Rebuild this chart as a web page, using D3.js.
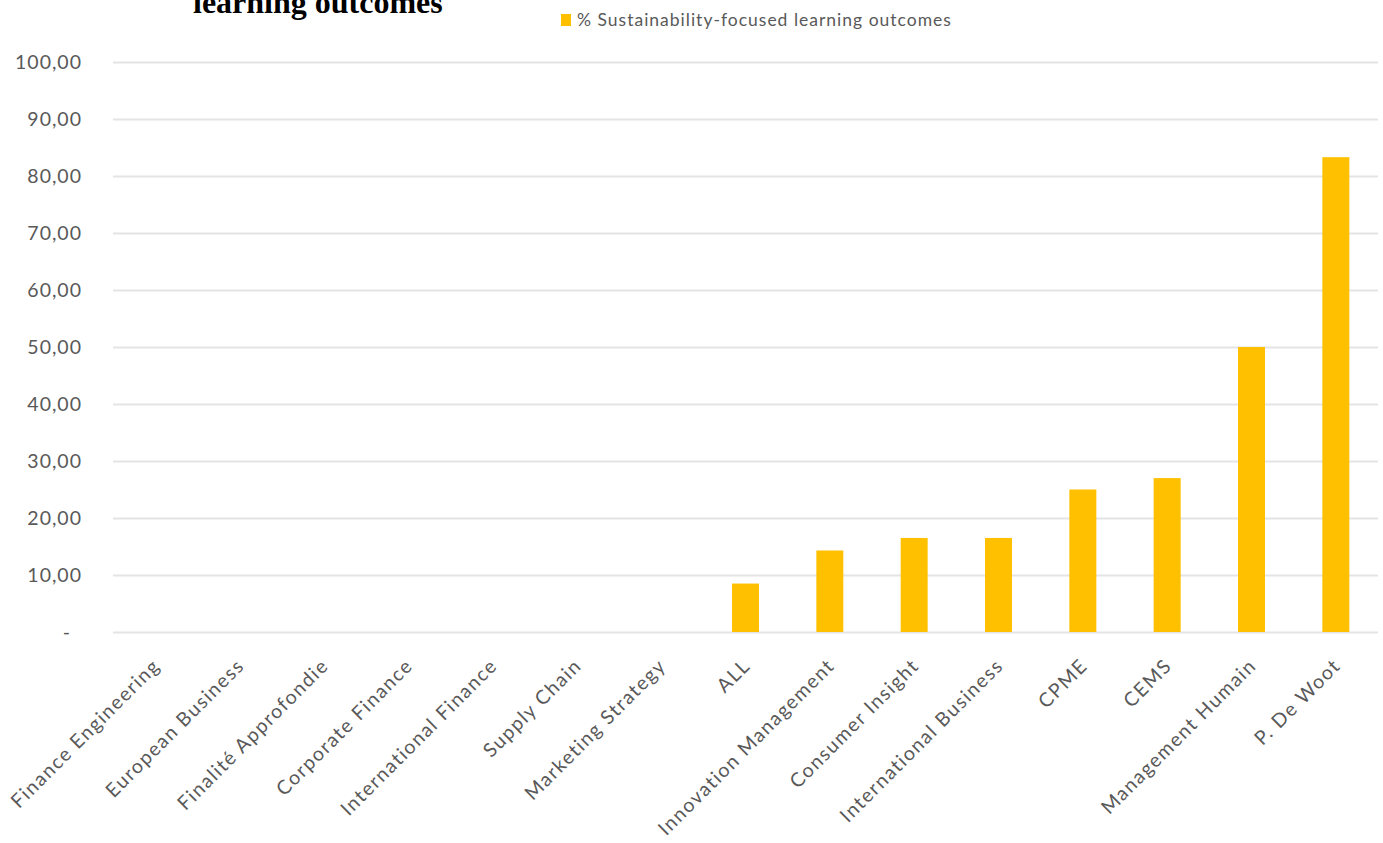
<!DOCTYPE html>
<html>
<head>
<meta charset="utf-8">
<script src="https://cdn.jsdelivr.net/npm/d3@7"></script>
<style>
  html, body { margin: 0; padding: 0; background: #ffffff; }
  svg { display: block; }
</style>
</head>
<body>
<svg id="chart" width="1383" height="843"></svg>
<script>
const categories = ["Finance Engineering", "European Business", "Finalité Approfondie", "Corporate Finance",
  "International Finance", "Supply Chain", "Marketing Strategy", "ALL", "Innovation Management",
  "Consumer Insight", "International Business", "CPME", "CEMS", "Management Humain", "P. De Woot"];
const values = [0, 0, 0, 0, 0, 0, 0, 8.5, 14.3, 16.5, 16.5, 25.0, 27.0, 50.0, 83.3];
const yTicks = [0, 10, 20, 30, 40, 50, 60, 70, 80, 90, 100];
const seriesName = "% Sustainability-focused learning outcomes";
const titleText = "learning outcomes";

(function () {
const svg = d3.select("#chart");
const mLeft = 113, mRight = 1378, mTop = 62, mBottom = 632;
const font = "Lato, 'Open Sans', sans-serif";
const grey = "#595959";

const x = d3.scaleBand().domain(categories).range([mLeft, mRight]).paddingInner(0.68).paddingOuter(0.34);
const y = d3.scaleLinear().domain([0, 100]).range([mBottom, mTop]);

// title (cropped at top, as in the source)
svg.append("text").attr("x", 193).attr("y", 13)
  .attr("font-family", "'Liberation Serif', 'Times New Roman', serif")
  .attr("font-weight", "bold").attr("font-size", 32).attr("fill", "#000")
  .text(titleText);

// legend
svg.append("rect").attr("x", 561).attr("y", 14).attr("width", 10).attr("height", 12).attr("fill", "#FFC000");
svg.append("text").attr("x", 577).attr("y", 26)
  .attr("font-family", font).attr("font-size", 17.5).attr("fill", grey)
  .attr("letter-spacing", 1.0)
  .text(seriesName);

// y axis with gridlines
const fmt = v => v === 0 ? "-" : d3.format(".2f")(v).replace(".", ",");
const yAxis = svg.append("g").attr("transform", `translate(${mLeft},0)`)
  .call(d3.axisLeft(y).tickValues(yTicks).tickFormat(fmt).tickSize(-(mRight - mLeft)).tickPadding(31));
yAxis.select(".domain").remove();
yAxis.selectAll(".tick line").attr("stroke", "#e4e4e4").attr("stroke-width", 2);
yAxis.selectAll(".tick text").attr("font-family", font).attr("font-size", 19.5).attr("fill", grey)
  .attr("letter-spacing", 1.0)
  .attr("dx", d => d === 0 ? -11 : 0);

// bars
svg.append("g").selectAll("rect").data(values).join("rect")
  .attr("x", (d, i) => x(categories[i]))
  .attr("width", x.bandwidth())
  .attr("y", d => y(d))
  .attr("height", d => y(0) - y(d))
  .attr("fill", "#FFC000");

// x axis labels
const xAxis = svg.append("g").attr("transform", `translate(0,${mBottom})`)
  .call(d3.axisBottom(x).tickSize(0).tickPadding(0));
xAxis.select(".domain").remove();
xAxis.selectAll(".tick text")
  .attr("font-family", font).attr("font-size", 19.5).attr("fill", grey)
  .attr("letter-spacing", 1.5)
  .attr("text-anchor", "end")
  .attr("dy", null).attr("y", null)
  .attr("transform", "translate(6,35) rotate(-45)");
})();
</script>
</body>
</html>
